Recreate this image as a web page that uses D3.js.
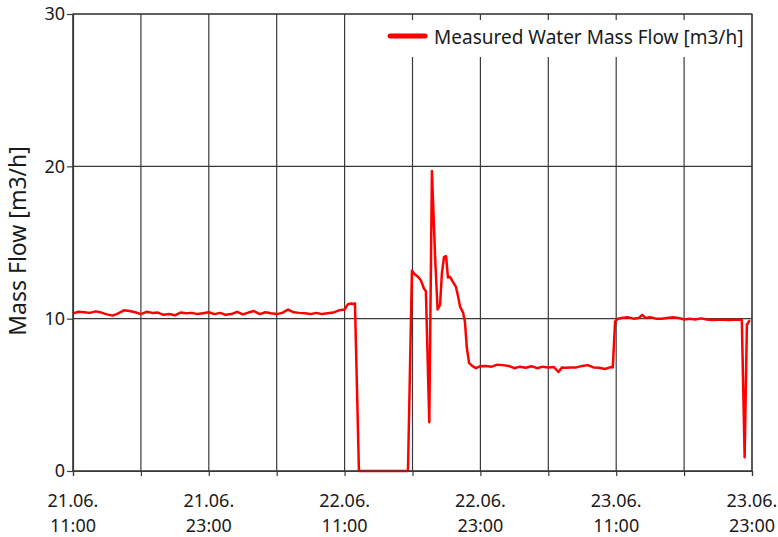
<!DOCTYPE html>
<html>
<head>
<meta charset="utf-8">
<script src="https://cdn.jsdelivr.net/npm/d3@7/dist/d3.min.js"></script>
<style>
  body { margin: 0; background: #fff; }
  text { font-family: 'Noto Sans', 'Open Sans', sans-serif; fill: #1a1a1a; }
</style>
</head>
<body>
<div id="chart"></div>
<script>
const startTime = new Date(2023, 5, 21, 11, 0)

// hours after 21.06. 11:00
const hours = [
  0, 0.5, 1, 1.5, 2, 2.5, 3, 3.5, 4, 4.5, 5, 5.5, 6, 6.5, 7, 7.5, 8, 8.5, 9, 9.5,
  10, 10.5, 11, 11.5, 12, 12.5, 13, 13.5, 14, 14.5, 15, 15.5, 16, 16.5, 17, 17.5,
  18, 18.5, 19, 19.5, 20, 20.5, 21, 21.5, 22, 22.5, 23, 23.5, 24, 24.3, 24.6, 24.8,
  24.92, 25.27, 27, 29.6, 29.95, 30.22, 30.49, 30.75, 31.0, 31.19, 31.48, 31.72,
  32.0, 32.22, 32.43, 32.6, 32.78, 32.96, 33.14, 33.31, 33.58, 33.84, 34.02, 34.2,
  34.46, 34.64, 34.8, 35.0, 35.26, 35.6, 36, 36.5, 37, 37.5, 38, 38.5, 39, 39.5,
  40, 40.5, 41, 41.5, 42, 42.5, 42.9, 43.2, 43.5, 44, 44.5, 45, 45.5, 46, 46.5, 47,
  47.5, 47.7, 47.9, 48.15, 48.5, 49, 49.5, 50, 50.3, 50.6, 51, 51.5, 52, 52.5, 53,
  53.5, 54, 54.5, 55, 55.5, 56, 56.5, 57, 57.5, 58, 58.5, 59.1, 59.35, 59.55, 59.8
]

// Measured Water Mass Flow [m3/h]
const flow = [
  10.35, 10.45, 10.42, 10.38, 10.48, 10.4, 10.28, 10.2, 10.35, 10.55, 10.5, 10.42,
  10.3, 10.45, 10.38, 10.4, 10.25, 10.3, 10.22, 10.4, 10.35, 10.38, 10.3, 10.36,
  10.42, 10.3, 10.38, 10.25, 10.3, 10.45, 10.28, 10.4, 10.5, 10.3, 10.42, 10.35,
  10.3, 10.38, 10.6, 10.42, 10.38, 10.35, 10.3, 10.38, 10.3, 10.35, 10.4, 10.55,
  10.6, 10.95, 11.0, 10.95, 11.0, 0, 0, 0, 13.15, 12.9, 12.75, 12.5, 12.0, 11.8,
  3.2, 19.7, 14.0, 10.6, 10.9, 13.0, 14.05, 14.1, 12.7, 12.75, 12.4, 12.1, 11.5,
  10.8, 10.4, 9.8, 8.1, 7.1, 6.9, 6.75, 6.88, 6.9, 6.85, 6.98, 6.95, 6.9, 6.75,
  6.85, 6.78, 6.88, 6.75, 6.85, 6.8, 6.82, 6.5, 6.8, 6.78, 6.8, 6.8, 6.9, 6.95, 6.8,
  6.78, 6.7, 6.82, 6.8, 9.8, 10.0, 10.05, 10.1, 10.0, 10.05, 10.25, 10.05, 10.1,
  10.0, 10.0, 10.05, 10.1, 10.05, 9.95, 10.0, 9.95, 10.02, 9.95, 9.92, 9.93, 9.93,
  9.92, 9.93, 9.93, 0.9, 9.6, 9.9
]

const gridHours = [0, 6, 12, 18, 24, 30, 36, 42, 48, 54, 60]
const labelHours = [0, 12, 24, 36, 48, 60]
const yTicks = [0, 10, 20, 30]

const margin = { top: 14, left: 73, right: 26, bottom: 66 }
const width = 778 - margin.left - margin.right
const height = 537 - margin.top - margin.bottom

const svg = d3
  .select('#chart')
  .append('svg')
  .attr('width', 778)
  .attr('height', 537)
  .append('g')
  .attr('transform', 'translate(' + margin.left + ',' + margin.top + ')')

const toDate = h => d3.timeMinute.offset(startTime, Math.round(h * 60))

const xPositionScale = d3
  .scaleTime()
  .domain([startTime, toDate(60)])
  .range([0, width])
const yPositionScale = d3.scaleLinear().domain([0, 30]).range([height, 0])

const datapoints = hours.map((h, i) => ({ datetime: toDate(h), flow: flow[i] }))

// grid
svg
  .selectAll('.grid-x')
  .data(gridHours)
  .enter()
  .append('line')
  .attr('class', 'grid-x')
  .attr('x1', d => xPositionScale(toDate(d)))
  .attr('x2', d => xPositionScale(toDate(d)))
  .attr('y1', 0)
  .attr('y2', height)
  .attr('stroke', '#3a3a3a')
  .attr('stroke-width', 1.2)

svg
  .selectAll('.grid-y')
  .data(yTicks)
  .enter()
  .append('line')
  .attr('class', 'grid-y')
  .attr('x1', 0)
  .attr('x2', width)
  .attr('y1', d => yPositionScale(d))
  .attr('y2', d => yPositionScale(d))
  .attr('stroke', '#3a3a3a')
  .attr('stroke-width', 1.2)

// axes
const xAxis = d3
  .axisBottom(xPositionScale)
  .tickValues(gridHours.map(toDate))
  .tickSize(5)
  .tickFormat('')
svg
  .append('g')
  .attr('class', 'axis x-axis')
  .attr('transform', 'translate(0,' + height + ')')
  .call(xAxis)

const fmtDay = d3.timeFormat('%d.%m.')
const fmtTime = d3.timeFormat('%H:%M')
const xLabels = svg
  .selectAll('.x-label')
  .data(labelHours)
  .enter()
  .append('text')
  .attr('class', 'x-label')
  .attr('text-anchor', 'middle')
  .attr('font-size', 18)
  .attr('transform', d => 'translate(' + xPositionScale(toDate(d)) + ',' + (height + 36) + ')')
xLabels.append('tspan').attr('x', 0).attr('y', 0).text(d => fmtDay(toDate(d)))
xLabels.append('tspan').attr('x', 0).attr('y', 25).text(d => fmtTime(toDate(d)))

const yAxis = d3.axisLeft(yPositionScale).tickValues(yTicks).tickSize(6).tickPadding(2)
svg
  .append('g')
  .attr('class', 'axis y-axis')
  .call(yAxis)

svg.selectAll('.axis path').attr('stroke', '#3a3a3a').attr('stroke-width', 1.2)
svg.selectAll('.axis line').attr('stroke', '#3a3a3a').attr('stroke-width', 1.2)
svg.selectAll('.y-axis text').attr('font-size', 18).attr('fill', '#1a1a1a')

svg
  .append('text')
  .attr('text-anchor', 'middle')
  .attr('font-size', 23)
  .attr('transform', 'translate(' + (-47) + ',' + (yPositionScale(15.1)) + ') rotate(-90)')
  .text('Mass Flow [m3/h]')

// legend
const legend = svg.append('g').attr('transform', 'translate(' + (xPositionScale(toDate(27.4))) + ',6)')
legend
  .append('rect')
  .attr('x', 0)
  .attr('y', 0)
  .attr('width', width - xPositionScale(toDate(27.4)) - 2)
  .attr('height', 37)
  .attr('fill', '#fff')
legend
  .append('line')
  .attr('x1', 7)
  .attr('x2', 42)
  .attr('y1', 16)
  .attr('y2', 16)
  .attr('stroke', '#ff0000')
  .attr('stroke-width', 5)
  .attr('stroke-linecap', 'round')
legend
  .append('text')
  .attr('x', 51)
  .attr('y', 23.5)
  .attr('font-size', 19)
  .text('Measured Water Mass Flow [m3/h]')

const line = d3
  .line()
  .x(d => xPositionScale(d.datetime))
  .y(d => yPositionScale(d.flow))

svg
  .append('path')
  .datum(datapoints)
  .attr('d', line)
  .attr('fill', 'none')
  .attr('stroke', '#ff0000')
  .attr('stroke-width', 2.5)
  .attr('stroke-linejoin', 'round')

// frame
svg
  .append('rect')
  .attr('x', 0)
  .attr('y', 0)
  .attr('width', width)
  .attr('height', height)
  .attr('fill', 'none')
  .attr('stroke', '#3a3a3a')
  .attr('stroke-width', 1.2)
</script>
</body>
</html>
